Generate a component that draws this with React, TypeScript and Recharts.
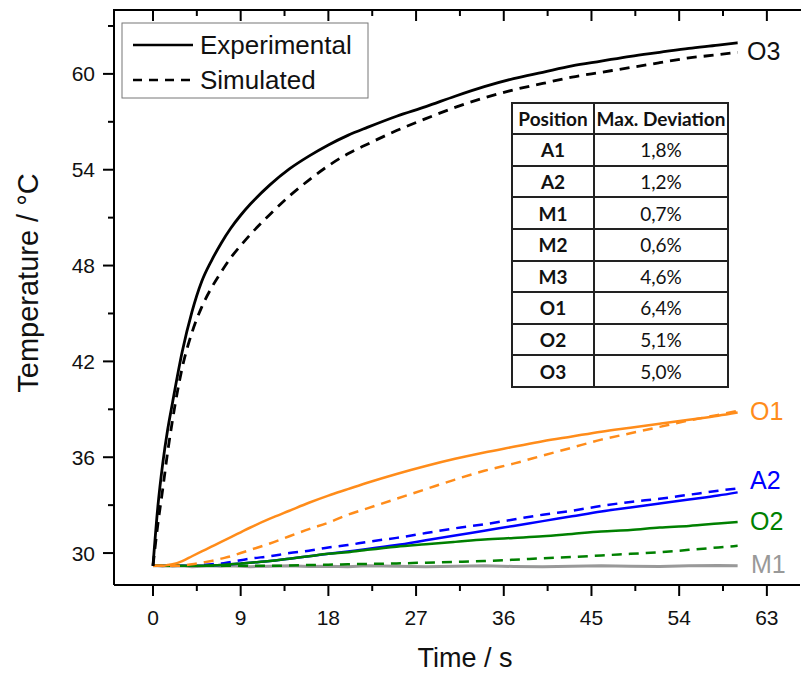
import { Line, LineChart, XAxis, YAxis } from "recharts";

const times = [0, 0.5, 1, 1.5, 2, 3, 4, 5, 6, 7, 8, 9, 10, 12, 14, 16, 18, 20, 22, 25, 28, 31, 34, 37, 40, 43, 46, 49, 52, 55, 58, 60];

const o3Exp = [29.2, 32.9, 35.6, 37.7, 39.4, 42.6, 45.1, 47.0, 48.3, 49.4, 50.35, 51.15, 51.85, 53.05, 54.05, 54.85, 55.55, 56.15, 56.65, 57.35, 57.95, 58.6, 59.2, 59.7, 60.1, 60.5, 60.8, 61.1, 61.35, 61.6, 61.8, 61.95];
const o3Sim = [29.2, 31.8, 34.0, 36.3, 38.3, 41.6, 43.8, 45.4, 46.6, 47.6, 48.5, 49.25, 49.95, 51.2, 52.35, 53.35, 54.25, 55.0, 55.6, 56.45, 57.2, 57.9, 58.5, 59.0, 59.4, 59.8, 60.1, 60.4, 60.7, 61.0, 61.2, 61.35];
const o1Exp = [29.2, 29.2, 29.2, 29.25, 29.3, 29.5, 29.8, 30.1, 30.4, 30.7, 31.0, 31.3, 31.6, 32.15, 32.65, 33.15, 33.6, 34.0, 34.4, 34.95, 35.45, 35.9, 36.3, 36.65, 37.0, 37.3, 37.6, 37.85, 38.1, 38.35, 38.6, 38.8];
const o1Sim = [29.2, 29.2, 29.2, 29.2, 29.2, 29.22, 29.3, 29.4, 29.5, 29.65, 29.8, 30.0, 30.2, 30.6, 31.05, 31.5, 31.9, 32.4, 32.8, 33.4, 34.0, 34.6, 35.15, 35.6, 36.1, 36.6, 37.1, 37.5, 37.9, 38.3, 38.65, 38.9];
const a2Exp = [29.2, 29.2, 29.2, 29.2, 29.2, 29.2, 29.2, 29.2, 29.22, 29.25, 29.3, 29.35, 29.4, 29.5, 29.65, 29.8, 29.95, 30.1, 30.25, 30.5, 30.8, 31.1, 31.4, 31.7, 32.0, 32.3, 32.6, 32.85, 33.1, 33.35, 33.6, 33.8];
const a2Sim = [29.2, 29.2, 29.2, 29.2, 29.2, 29.2, 29.2, 29.25, 29.3, 29.35, 29.45, 29.55, 29.65, 29.8, 30.0, 30.15, 30.35, 30.5, 30.7, 30.95, 31.25, 31.55, 31.8, 32.1, 32.4, 32.65, 32.95, 33.2, 33.4, 33.65, 33.9, 34.05];
const o2Exp = [29.2, 29.2, 29.2, 29.2, 29.2, 29.2, 29.2, 29.2, 29.22, 29.25, 29.3, 29.35, 29.4, 29.5, 29.65, 29.8, 29.95, 30.05, 30.2, 30.4, 30.55, 30.7, 30.85, 30.95, 31.05, 31.2, 31.35, 31.45, 31.6, 31.7, 31.85, 31.95];
const o2Sim = [29.2, 29.2, 29.2, 29.2, 29.2, 29.2, 29.2, 29.2, 29.2, 29.2, 29.2, 29.2, 29.2, 29.2, 29.22, 29.25, 29.27, 29.3, 29.32, 29.35, 29.4, 29.45, 29.5, 29.58, 29.67, 29.75, 29.85, 29.95, 30.05, 30.2, 30.35, 30.45];
const m1Exp = [29.2, 29.2, 29.18, 29.2, 29.18, 29.2, 29.15, 29.18, 29.2, 29.17, 29.2, 29.18, 29.15, 29.18, 29.2, 29.16, 29.18, 29.15, 29.2, 29.17, 29.15, 29.18, 29.2, 29.16, 29.15, 29.18, 29.2, 29.17, 29.16, 29.2, 29.22, 29.2];

const xMajor = [0, 9, 18, 27, 36, 45, 54, 63];
const xAll = [0, 4.5, 9, 13.5, 18, 22.5, 27, 31.5, 36, 40.5, 45, 49.5, 54, 58.5, 63];
const yAll = [30, 33, 36, 39, 42, 45, 48, 51, 54, 57, 60, 63];
const yMajor = [30, 36, 42, 48, 54, 60];

const tableRows = [
    ["A1", "1,8%"],
    ["A2", "1,2%"],
    ["M1", "0,7%"],
    ["M2", "0,6%"],
    ["M3", "4,6%"],
    ["O1", "6,4%"],
    ["O2", "5,1%"],
    ["O3", "5,0%"],
];

const endLabels = [
    { text: "O3", color: "#111", x: 747, y: 60 },
    { text: "O1", color: "#ff8c1a", x: 750, y: 420 },
    { text: "A2", color: "#0000ff", x: 750, y: 489 },
    { text: "O2", color: "#008000", x: 750, y: 530 },
    { text: "M1", color: "#999999", x: 751, y: 573 },
];

const data = times.map((t, i) => ({
    t,
    o3Exp: o3Exp[i],
    o3Sim: o3Sim[i],
    o1Exp: o1Exp[i],
    o1Sim: o1Sim[i],
    a2Exp: a2Exp[i],
    a2Sim: a2Sim[i],
    o2Exp: o2Exp[i],
    o2Sim: o2Sim[i],
    m1Exp: m1Exp[i],
}));

const FONT = "'Liberation Sans', Arial, sans-serif";
const X_DOMAIN: [number, number] = [-4, 66.4];

// plot box (chart margin + y axis width)
const PLOT_LEFT = 114;
const PLOT_RIGHT = 800;
const PLOT_TOP = 10;
const xToPx = (v: number) => PLOT_LEFT + ((v - X_DOMAIN[0]) / (X_DOMAIN[1] - X_DOMAIN[0])) * (PLOT_RIGHT - PLOT_LEFT);

const BottomTick = (props: any) => {
    const { x, y, payload } = props;
    const major = xMajor.includes(payload.value);
    return (
        <g>
            <line x1={x} y1={y} x2={x} y2={y + (major ? 11 : 6)} stroke="#000" strokeWidth={2} />
            {major && (
                <text x={x} y={y + 40} textAnchor="middle" fontSize={21} fontFamily={FONT} fill="#111">
                    {payload.value}
                </text>
            )}
        </g>
    );
};

const LeftTick = (props: any) => {
    const { x, y, payload } = props;
    const major = yMajor.includes(payload.value);
    return (
        <g>
            <line x1={x - (major ? 11 : 6)} y1={y} x2={x} y2={y} stroke="#000" strokeWidth={2} />
            {major && (
                <text x={x - 19} y={y} dy="0.36em" textAnchor="end" fontSize={21} fontFamily={FONT} fill="#111">
                    {payload.value}
                </text>
            )}
        </g>
    );
};

const cell: any = { border: "2px solid #222", padding: 0, textAlign: "center" };

export default function App() {
    return (
        <div style={{ position: "absolute", left: 0, top: 0, width: 801, height: 676, background: "#fff" }}>
            <LineChart width={801} height={676} data={data} margin={{ top: PLOT_TOP, right: 1, bottom: 61, left: 54 }}>
                <XAxis
                    dataKey="t"
                    type="number"
                    domain={X_DOMAIN}
                    allowDataOverflow
                    ticks={xAll}
                    interval={0}
                    tickSize={0}
                    tickMargin={0}
                    tickLine={false}
                    tick={BottomTick}
                    height={30}
                    axisLine={{ stroke: "#000", strokeWidth: 2 }}
                />
                <YAxis
                    type="number"
                    domain={[28, 64]}
                    allowDataOverflow
                    ticks={yAll}
                    interval={0}
                    tickSize={0}
                    tickMargin={0}
                    tickLine={false}
                    tick={LeftTick}
                    width={60}
                    axisLine={{ stroke: "#000", strokeWidth: 2 }}
                />
                <Line dataKey="m1Exp" stroke="#999999" strokeWidth={3} dot={false} type="linear" isAnimationActive={false} />
                <Line dataKey="a2Sim" stroke="#0000ff" strokeWidth={2.5} strokeDasharray="10 7" dot={false} type="monotone" isAnimationActive={false} />
                <Line dataKey="a2Exp" stroke="#0000ff" strokeWidth={2.5} dot={false} type="monotone" isAnimationActive={false} />
                <Line dataKey="o2Sim" stroke="#008000" strokeWidth={2.5} strokeDasharray="10 7" dot={false} type="monotone" isAnimationActive={false} />
                <Line dataKey="o2Exp" stroke="#008000" strokeWidth={2.5} dot={false} type="monotone" isAnimationActive={false} />
                <Line dataKey="o1Sim" stroke="#ff8c1a" strokeWidth={2.5} strokeDasharray="10 7" dot={false} type="monotone" isAnimationActive={false} />
                <Line dataKey="o1Exp" stroke="#ff8c1a" strokeWidth={2.5} dot={false} type="monotone" isAnimationActive={false} />
                <Line dataKey="o3Sim" stroke="#000" strokeWidth={2.8} strokeDasharray="10 7" dot={false} type="monotone" isAnimationActive={false} />
                <Line dataKey="o3Exp" stroke="#000" strokeWidth={2.8} dot={false} type="monotone" isAnimationActive={false} />
            </LineChart>

            <svg width={801} height={676} style={{ position: "absolute", left: 0, top: 0, pointerEvents: "none" }}>
                {/* top frame with inward ticks */}
                <line x1={PLOT_LEFT - 1} y1={PLOT_TOP} x2={801} y2={PLOT_TOP} stroke="#000" strokeWidth={2} />
                {xAll.map((v) => (
                    <line
                        key={v}
                        x1={xToPx(v)}
                        y1={PLOT_TOP}
                        x2={xToPx(v)}
                        y2={PLOT_TOP + (xMajor.includes(v) ? 11 : 6)}
                        stroke="#000"
                        strokeWidth={2}
                    />
                ))}
                <rect x={122} y={23} width={246} height={75} fill="#fff" stroke="#777" strokeWidth={1} />
                <line x1={133} y1={45} x2={193} y2={45} stroke="#000" strokeWidth={2.5} />
                <line x1={133} y1={80} x2={193} y2={80} stroke="#000" strokeWidth={2.5} strokeDasharray="9 7" />
                <text x={200} y={54} fontSize={26} fontFamily={FONT} fill="#111">Experimental</text>
                <text x={200} y={89} fontSize={26} fontFamily={FONT} fill="#111">Simulated</text>
                {endLabels.map((l) => (
                    <text key={l.text} x={l.x} y={l.y} fontSize={25} fontFamily={FONT} fill={l.color}>
                        {l.text}
                    </text>
                ))}
                <text transform="translate(38,283) rotate(-90)" textAnchor="middle" fontSize={29} fontFamily={FONT} fill="#111">
                    Temperature / °C
                </text>
                <text x={465} y={667} textAnchor="middle" fontSize={27} fontFamily={FONT} fill="#111">
                    Time / s
                </text>
            </svg>

            <table
                style={{
                    position: "absolute",
                    left: 511,
                    top: 102,
                    width: 218,
                    height: 286,
                    borderCollapse: "collapse",
                    border: "2.5px solid #111",
                    background: "#fff",
                    fontFamily: "Lato, 'Open Sans', sans-serif",
                    fontSize: 19,
                    color: "#111",
                }}
            >
                <tbody>
                    <tr style={{ height: 31 }}>
                        <td style={{ ...cell, width: 80, fontWeight: 700 }}>Position</td>
                        <td style={{ ...cell, fontWeight: 700 }}>Max. Deviation</td>
                    </tr>
                    {tableRows.map(([pos, dev]) => (
                        <tr key={pos}>
                            <td style={{ ...cell, fontWeight: 700 }}>{pos}</td>
                            <td style={cell}>{dev}</td>
                        </tr>
                    ))}
                </tbody>
            </table>
        </div>
    );
}
